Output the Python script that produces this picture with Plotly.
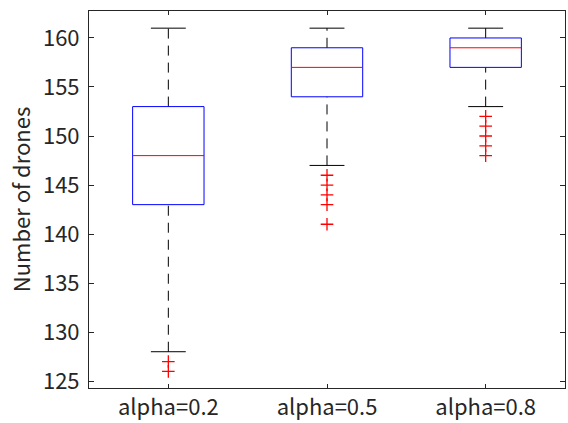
import plotly.graph_objects as go

categories = ["alpha=0.2", "alpha=0.5", "alpha=0.8"]
q1 = [143, 154, 157]
median = [148, 157, 159]
q3 = [153, 159, 160]
lower_whisker = [128, 147, 153]
upper_whisker = [161, 161, 161]
outliers = [
    [127, 126],
    [146, 145, 144, 143, 141],
    [152, 151, 150, 149, 148],
]
y_ticks = [125, 130, 135, 140, 145, 150, 155, 160]

BOX_HW = 0.225
CAP_HW = 0.11
FONT = "Noto Sans CJK JP"
AX = "#262626"

fig = go.Figure()
for i, cat in enumerate(categories):
    x = i + 1
    fig.add_trace(go.Scatter(x=[x, x], y=[q3[i], upper_whisker[i]], mode="lines",
                             line=dict(color="black", width=1, dash="10px,7px"),
                             showlegend=False, hoverinfo="skip"))
    fig.add_trace(go.Scatter(x=[x, x], y=[lower_whisker[i], q1[i]], mode="lines",
                             line=dict(color="black", width=1, dash="10px,7px"),
                             showlegend=False, hoverinfo="skip"))
    for w in (upper_whisker[i], lower_whisker[i]):
        fig.add_trace(go.Scatter(x=[x - CAP_HW, x + CAP_HW], y=[w, w], mode="lines",
                                 line=dict(color="black", width=1),
                                 showlegend=False, hoverinfo="skip"))
    fig.add_trace(go.Scatter(x=[x - BOX_HW, x + BOX_HW, x + BOX_HW, x - BOX_HW, x - BOX_HW],
                             y=[q1[i], q1[i], q3[i], q3[i], q1[i]], mode="lines",
                             line=dict(color="blue", width=1),
                             showlegend=False, hoverinfo="skip"))
    fig.add_trace(go.Scatter(x=[x - BOX_HW, x + BOX_HW], y=[median[i], median[i]], mode="lines",
                             line=dict(color="red", width=1),
                             showlegend=False, hoverinfo="skip"))
    fig.add_trace(go.Scatter(x=[x] * len(outliers[i]), y=outliers[i], mode="markers",
                             marker=dict(symbol="cross-thin", size=9, color="red",
                                         line=dict(color="red", width=1.3)),
                             showlegend=False, hoverinfo="skip"))

fig.update_layout(
    width=568, height=423,
    margin=dict(l=89, r=3, t=11, b=35, autoexpand=False),
    paper_bgcolor="white", plot_bgcolor="white",
    font=dict(family=FONT, size=22, color="#262626"),
)
fig.update_xaxes(
    range=[0.5, 3.5], tickvals=[1, 2, 3], ticktext=categories,
    showline=True, linecolor=AX, linewidth=1, mirror="ticks",
    ticks="inside", ticklen=4, tickcolor=AX, showgrid=False, zeroline=False,
    tickfont=dict(size=22), automargin=False,
)
fig.update_yaxes(
    range=[124.3, 162.75], tickvals=y_ticks,
    showline=True, linecolor=AX, linewidth=1, mirror="ticks",
    ticks="inside", ticklen=5, tickcolor=AX, showgrid=False, zeroline=False,
    tickfont=dict(size=22), ticklabelstandoff=4, automargin=False,
    title=dict(text="Number of drones", font=dict(size=22), standoff=6),
)

fig.write_html("out.html", config={"displayModeBar": False},
               post_script="document.body.style.margin='0';")
